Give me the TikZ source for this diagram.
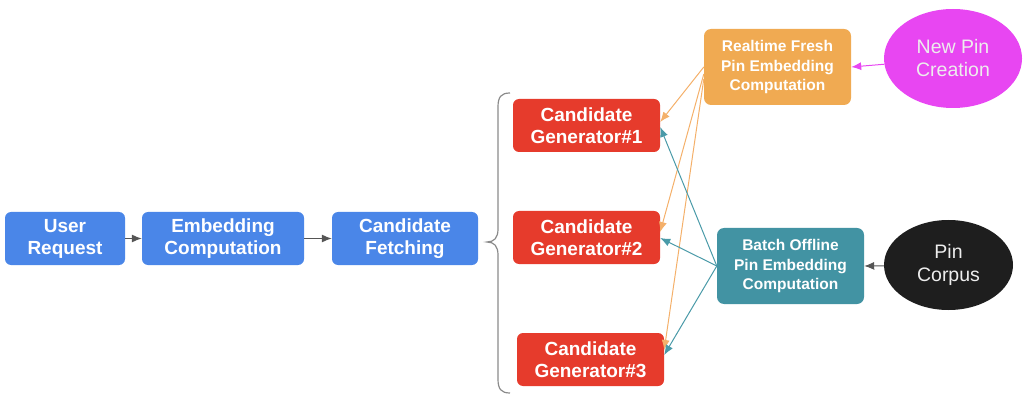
\documentclass[tikz,border=0pt]{standalone}
\usepackage{fontspec}
\setmainfont{Liberation Sans}
\usetikzlibrary{arrows.meta,shapes.geometric}
\definecolor{cblue}{HTML}{4A86E8}
\definecolor{cred}{HTML}{E63B2C}
\definecolor{corange}{HTML}{F0AA52}
\definecolor{cteal}{HTML}{4293A3}
\definecolor{cmag}{HTML}{E846F2}
\definecolor{cblack}{HTML}{1E1E1E}
\definecolor{corline}{HTML}{F4B06A}
\definecolor{ctealline}{HTML}{4A9AA8}
\definecolor{cgrayline}{HTML}{555555}
\definecolor{cbrace}{HTML}{8A8A8A}
\begin{document}
\begin{tikzpicture}[x=1pt,y=-1pt,
  box/.style={rounded corners=6pt, inner sep=0pt, align=center, text=white,
    font=\fontsize{19}{22}\selectfont\bfseries, minimum height=53pt},
  smallbox/.style={rounded corners=7pt, inner sep=0pt, align=center, text=white,
    font=\fontsize{15.5}{19.5}\selectfont\bfseries, minimum width=147pt, minimum height=76pt},
  oval/.style={ellipse, inner sep=0pt, align=center, text=white!93!black,
    font=\fontsize{19.5}{23}\selectfont},
  arr/.style={-{Latex[length=10pt,width=8pt]}, line width=1pt},
]
\useasboundingbox (0,0) rectangle (1024,403);

\node[box, fill=cblue, minimum width=120pt] (user) at (65,238.5) {User\\Request};
\node[box, fill=cblue, minimum width=162pt] (emb) at (223,238.5) {Embedding\\Computation};
\node[box, fill=cblue, minimum width=146pt] (cf) at (405,238.5) {Candidate\\Fetching};

\node[box, fill=cred, minimum width=147pt] (cg1) at (586.5,125.5) {Candidate\\Generator\#1};
\node[box, fill=cred, minimum width=147pt] (cg2) at (586.5,237.5) {Candidate\\Generator\#2};
\node[box, fill=cred, minimum width=147pt] (cg3) at (590.5,359.5) {Candidate\\Generator\#3};

\node[smallbox, fill=corange] (rt) at (777.5,67) {Realtime Fresh\\Pin Embedding\\Computation};
\node[smallbox, fill=cteal] (bo) at (790.5,266) {Batch Offline\\Pin Embedding\\Computation};

\node[oval, fill=cmag, minimum width=138pt, minimum height=99pt] (np) at (953,58.5) {New Pin\\Creation};
\node[oval, fill=cblack, minimum width=129pt, minimum height=90pt] (pc) at (948.5,265) {Pin\\Corpus};

\draw[arr, cgrayline] (user) -- (emb);
\draw[arr, cgrayline] (emb) -- (cf);

\draw[cbrace, line width=1.2pt]
  (510,93) .. controls (501,93) and (498,97) .. (498,107) -- (498,229)
  .. controls (498,238) and (494,242) .. (487,242)
  .. controls (494,242) and (498,246) .. (498,255) -- (498,379)
  .. controls (498,389) and (501,393) .. (510,393);

\draw[arr, corline] (rt.west) -- ([yshift=3.5pt]cg1.east);
\draw[arr, corline] ([yshift=-7pt]rt.west) -- ([yshift=5.5pt]cg2.east);
\draw[arr, corline] ([yshift=-12pt]rt.west) -- ([yshift=9.5pt]cg3.east);

\draw[arr, ctealline] (bo.west) -- ([yshift=-1.5pt]cg1.east);
\draw[arr, ctealline] (bo.west) -- ([yshift=-0.5pt]cg2.east);
\draw[arr, ctealline] (bo.west) -- ([yshift=4.5pt]cg3.east);

\draw[arr, cmag] (np) -- (rt.east);
\draw[arr, cgrayline] (pc) -- (bo.east);
\end{tikzpicture}
\end{document}
